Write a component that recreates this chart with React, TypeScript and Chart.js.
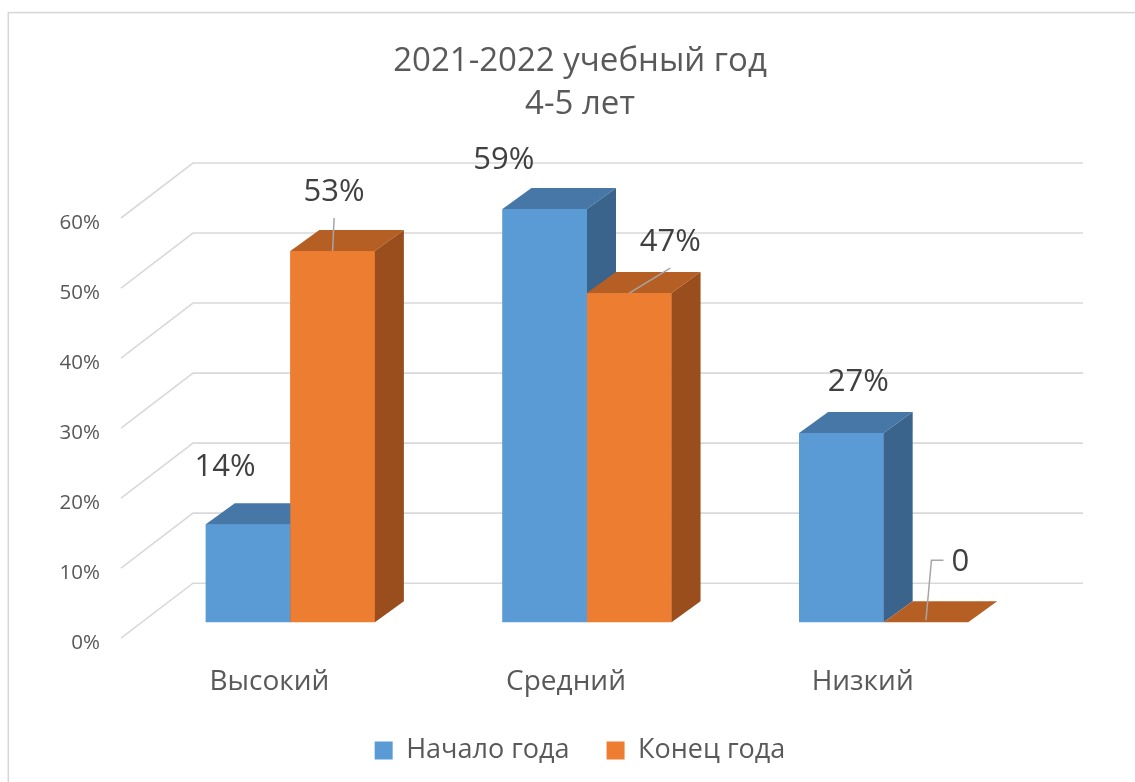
import React, { useEffect, useRef } from "react";
import { Chart, registerables } from "chart.js";

Chart.register(...registerables);

// ---------- data ----------
const titleLines = ["2021-2022 учебный год", "4-5 лет"];
const categories = ["Высокий", "Средний", "Низкий"];
const seriesNames = ["Начало года", "Конец года"];
const startValues = [14, 59, 27];
const endValues = [53, 47, 0];
const yTickValues = [0, 10, 20, 30, 40, 50, 60];

// ---------- style / layout ----------
const FONT = '"Open Sans", "Noto Sans", sans-serif';
const TEXT = "#595959";
const LABEL_TEXT = "#404040";
const GRID = "#d9d9d9";
const Y_TICK_SIZE = 20.5;
const FACES = [
  { front: "#5B9BD5", top: "#4677A6", side: "#3A648C" },
  { front: "#ED7D31", top: "#B65F24", side: "#9A4E1D" },
];
// 3D projection offsets relative to the bar plane
const FRONT_OFF = { dx: -21, dy: 16 };
const BACK_OFF = { dx: 51, dy: -39 };
const BAR_DEPTH = { dx: 29, dy: -21 };
// manual label placement (relative to bar top centre), per dataset per category
const LABEL_PLACE = [
  [{ dx: -23, dy: -57, leader: "none" }, { dx: -41, dy: -49, leader: "none" }, { dx: 17, dy: -51, leader: "none" }],
  [{ dx: 1.5, dy: -59, leader: "bottom" }, { dx: 41, dy: -51, leader: "bottom" }, { dx: 34.5, dy: -60, leader: "side" }],
];

const fmtLabel = (v: number) => (v === 0 ? "0" : v + "%");
const fmtTick = (v: number) => v + "%";

function widestTick(): number {
  const c = document.createElement("canvas").getContext("2d");
  if (!c) return 40;
  c.font = `${Y_TICK_SIZE}px ${FONT}`;
  return Math.max(...yTickValues.map((v) => c.measureText(fmtTick(v)).width));
}

const threeDPlugin = {
  id: "threeD",
  beforeDraw(chart: any) {
    const { ctx } = chart;
    ctx.save();
    ctx.strokeStyle = "#d6d6d6";
    ctx.lineWidth = 1.5;
    ctx.strokeRect(8.3, 12.6, 1200, 900);
    ctx.restore();
  },
  beforeDatasetsDraw(chart: any) {
    const { ctx, chartArea, scales } = chart;
    const y = scales.y;
    ctx.save();
    ctx.strokeStyle = GRID;
    ctx.lineWidth = 1.6;
    yTickValues.forEach((v) => {
      const yb = y.getPixelForValue(v);
      ctx.beginPath();
      ctx.moveTo(chartArea.left + FRONT_OFF.dx, yb + FRONT_OFF.dy);
      ctx.lineTo(chartArea.left + BACK_OFF.dx, yb + BACK_OFF.dy);
      ctx.lineTo(chartArea.right + BACK_OFF.dx, yb + BACK_OFF.dy);
      ctx.stroke();
    });
    ctx.restore();
  },
  afterDatasetsDraw(chart: any) {
    const { ctx } = chart;
    const n = chart.data.labels.length;
    ctx.save();
    for (let i = 0; i < n; i++) {
      chart.data.datasets.forEach((_ds: any, d: number) => {
        const el = chart.getDatasetMeta(d).data[i];
        const { x, y, base, width } = el.getProps(["x", "y", "base", "width"], true);
        const l = x - width / 2;
        const r = x + width / 2;
        const c = FACES[d];
        ctx.fillStyle = c.front;
        ctx.fillRect(l, y, width, base - y);
        ctx.fillStyle = c.top;
        ctx.beginPath();
        ctx.moveTo(l, y);
        ctx.lineTo(r, y);
        ctx.lineTo(r + BAR_DEPTH.dx, y + BAR_DEPTH.dy);
        ctx.lineTo(l + BAR_DEPTH.dx, y + BAR_DEPTH.dy);
        ctx.closePath();
        ctx.fill();
        if (base - y > 0.5) {
          ctx.fillStyle = c.side;
          ctx.beginPath();
          ctx.moveTo(r, y);
          ctx.lineTo(r + BAR_DEPTH.dx, y + BAR_DEPTH.dy);
          ctx.lineTo(r + BAR_DEPTH.dx, base + BAR_DEPTH.dy);
          ctx.lineTo(r, base);
          ctx.closePath();
          ctx.fill();
        }
      });
    }
    ctx.restore();
  },
  afterDraw(chart: any) {
    const { ctx } = chart;
    ctx.save();
    ctx.font = `31px ${FONT}`;
    ctx.textAlign = "center";
    ctx.textBaseline = "middle";
    chart.data.datasets.forEach((ds: any, d: number) => {
      const meta = chart.getDatasetMeta(d);
      ds.data.forEach((v: number, i: number) => {
        const el = meta.data[i];
        const { x, y } = el.getProps(["x", "y"], true);
        const p = LABEL_PLACE[d][i];
        const lx = x + p.dx;
        const ly = y + p.dy;
        ctx.strokeStyle = "#a6a6a6";
        ctx.lineWidth = 1.5;
        if (p.leader === "bottom") {
          ctx.beginPath();
          ctx.moveTo(lx, ly + 26);
          ctx.lineTo(x, y);
          ctx.stroke();
        } else if (p.leader === "side") {
          ctx.beginPath();
          ctx.moveTo(lx - 17, ly - 2);
          ctx.lineTo(lx - 29, ly - 2);
          ctx.lineTo(x, y - 2);
          ctx.stroke();
        }
        ctx.fillStyle = LABEL_TEXT;
        ctx.fillText(fmtLabel(v), lx, ly);
      });
    });
    ctx.restore();
  },
};

export default function App() {
  const ref = useRef<HTMLCanvasElement | null>(null);
  useEffect(() => {
    if (!ref.current) return;
    const widest = widestTick();
    const chart = new Chart(ref.current, {
      type: "bar",
      data: {
        labels: categories,
        datasets: [
          { label: seriesNames[0], data: startValues, backgroundColor: FACES[0].front, borderWidth: 0 },
          { label: seriesNames[1], data: endValues, backgroundColor: FACES[1].front, borderWidth: 0 },
        ],
      },
      options: {
        responsive: false,
        animation: false,
        events: [],
        datasets: { bar: { categoryPercentage: 0.57, barPercentage: 1 } },
        layout: { padding: { left: 128, right: 103, top: 0, bottom: 8 } },
        scales: {
          x: {
            grid: { display: false, drawTicks: false },
            border: { display: false },
            ticks: {
              color: TEXT,
              font: { family: FONT, size: 28 },
              padding: 43,
              labelOffset: -21,
              maxRotation: 0,
            },
            afterFit: (axis: any) => {
              axis.height = 77.8;
            },
          },
          y: {
            min: 0,
            max: 60,
            grid: { display: false, drawTicks: false },
            border: { display: false },
            ticks: {
              stepSize: 10,
              color: TEXT,
              font: { family: FONT, size: Y_TICK_SIZE },
              mirror: true,
              crossAlign: "far",
              padding: -42 - widest,
              labelOffset: 21,
              callback: (v: any) => fmtTick(v),
            },
            afterFit: (axis: any) => {
              axis.width = 14;
            },
          },
        },
        plugins: {
          tooltip: { enabled: false },
          title: {
            display: true,
            text: titleLines,
            color: TEXT,
            font: { family: FONT, size: 33, weight: "normal", lineHeight: 43 / 33 },
            padding: { top: 40, bottom: 76 },
          },
          legend: {
            position: "bottom",
            labels: {
              color: TEXT,
              font: { family: FONT, size: 27 },
              boxWidth: 18,
              boxHeight: 18,
              padding: 37,
            },
          },
        },
      },
      plugins: [threeDPlugin],
    });
    return () => chart.destroy();
  }, []);
  return (
    <div style={{ position: "absolute", left: 0, top: 0, width: 1135, height: 782, background: "#fff" }}>
      <canvas ref={ref} width={1135} height={782} style={{ display: "block" }} />
    </div>
  );
}
